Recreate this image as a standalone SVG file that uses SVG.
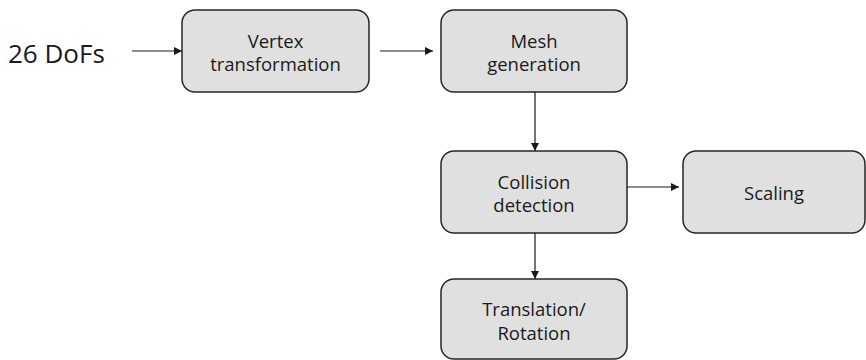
<svg xmlns="http://www.w3.org/2000/svg" width="866" height="360" viewBox="0 0 866 360">
  <style>
    .box { fill: #e0e0e0; stroke: #262626; stroke-width: 1.5; }
    .lbl { font-family: "Open Sans", "Noto Sans", sans-serif; font-size: 18.5px; fill: #1a1a1a; text-anchor: middle; }
    .edge { stroke: #1a1a1a; stroke-width: 1.2; fill: none; marker-end: url(#arrow); }
  </style>
  <defs>
    <marker id="arrow" markerWidth="8" markerHeight="8" refX="8" refY="4" orient="auto" markerUnits="userSpaceOnUse">
      <path d="M0,0 L8,4 L0,8 Z" fill="#1a1a1a"/>
    </marker>
  </defs>
  <rect width="866" height="360" fill="#ffffff"/>

  <text x="8" y="63" font-family="Open Sans, Noto Sans, sans-serif" font-size="26" fill="#1a1a1a">26 DoFs</text>

  <g id="vertex">
    <rect class="box" x="182" y="10" width="187" height="82" rx="13"/>
    <text class="lbl" x="275.5" y="48">Vertex</text>
    <text class="lbl" x="275.5" y="71">transformation</text>
  </g>
  <g id="mesh">
    <rect class="box" x="441" y="10" width="186" height="82" rx="13"/>
    <text class="lbl" x="534" y="48">Mesh</text>
    <text class="lbl" x="534" y="71">generation</text>
  </g>
  <g id="collision">
    <rect class="box" x="441" y="151" width="186" height="82" rx="13"/>
    <text class="lbl" x="534" y="189">Collision</text>
    <text class="lbl" x="534" y="212">detection</text>
  </g>
  <g id="scaling">
    <rect class="box" x="683" y="151" width="182" height="82" rx="13"/>
    <text class="lbl" x="774" y="200">Scaling</text>
  </g>
  <g id="translation">
    <rect class="box" x="441" y="279" width="186" height="80" rx="13"/>
    <text class="lbl" x="534" y="316">Translation/</text>
    <text class="lbl" x="534" y="340">Rotation</text>
  </g>

  <g id="connectors">
    <line class="edge" x1="132" y1="51" x2="182" y2="51"/>
    <line class="edge" x1="380" y1="51" x2="433" y2="51"/>
    <line class="edge" x1="535" y1="92" x2="535" y2="151"/>
    <line class="edge" x1="627" y1="187" x2="679" y2="187"/>
    <line class="edge" x1="535" y1="233" x2="535" y2="279"/>
  </g>
</svg>
